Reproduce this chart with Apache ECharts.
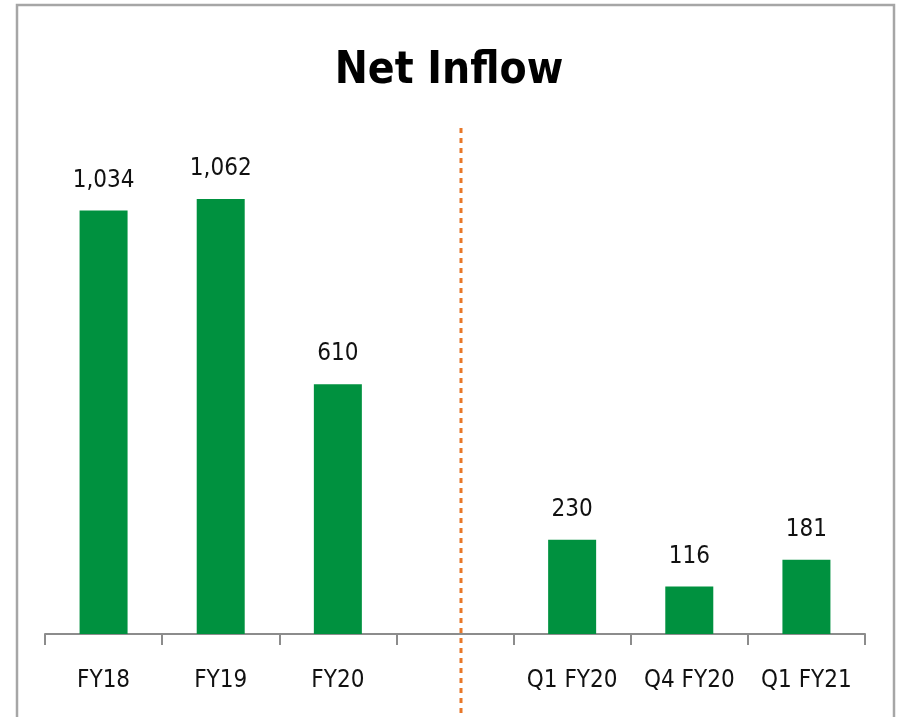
<!DOCTYPE html>
<html>
<head>
<meta charset="utf-8">
<script src="https://cdn.jsdelivr.net/npm/echarts@6/dist/echarts.min.js"></script>
<style>
  html, body { margin: 0; padding: 0; background: #fff; }
  #chart { width: 898px; height: 717px; }
</style>
</head>
<body>
<div id="chart"></div>
<script>
// categories, blank slot splits annual from quarterly
const categories = ['FY18', 'FY19', 'FY20', '', 'Q1 FY20', 'Q4 FY20', 'Q1 FY21']
const netInflow = [1034, 1062, 610, null, 230, 116, 181]

const font = '"DejaVu Sans Condensed", "Liberation Sans Narrow", sans-serif'

const myChart = echarts.init(document.getElementById('chart'))

const option = {
  backgroundColor: '#fff',
  animation: false,
  title: {
    text: 'Net Inflow',
    left: 'center',
    top: 45,
    textStyle: { fontFamily: font, fontSize: 44, fontWeight: 'bold', color: '#000' }
  },
  grid: { left: 45, right: 33, top: 142.5, bottom: 83 },
  xAxis: {
    type: 'category',
    data: categories,
    axisLine: { lineStyle: { color: '#8c8c8c', width: 2 } },
    axisTick: { show: true, interval: 0, length: 11, lineStyle: { color: '#8c8c8c', width: 2 } },
    axisLabel: { interval: 0, fontFamily: font, fontSize: 24, color: '#111', margin: 35 }
  },
  yAxis: {
    type: 'value',
    min: 0,
    max: 1200,
    show: false,
    splitLine: { show: false }
  },
  series: [{
    type: 'bar',
    data: netInflow,
    barWidth: 48,
    itemStyle: { color: '#00913f' },
    label: {
      show: true,
      position: 'top',
      distance: 18,
      fontFamily: font,
      fontSize: 24,
      color: '#111',
      formatter: p => p.value.toLocaleString('en-US')
    }
  }],
  graphic: [
    {
      type: 'rect',
      shape: { x: 17, y: 5, width: 877, height: 730 },
      style: { fill: 'none', stroke: '#a6a6a6', lineWidth: 2.5 },
      silent: true
    },
    {
      type: 'line',
      shape: { x1: 461, y1: 128, x2: 461, y2: 717 },
      style: { stroke: '#e8782a', lineWidth: 3, lineDash: [5, 5] },
      silent: true
    }
  ]
}

myChart.setOption(option)
</script>
</body>
</html>
